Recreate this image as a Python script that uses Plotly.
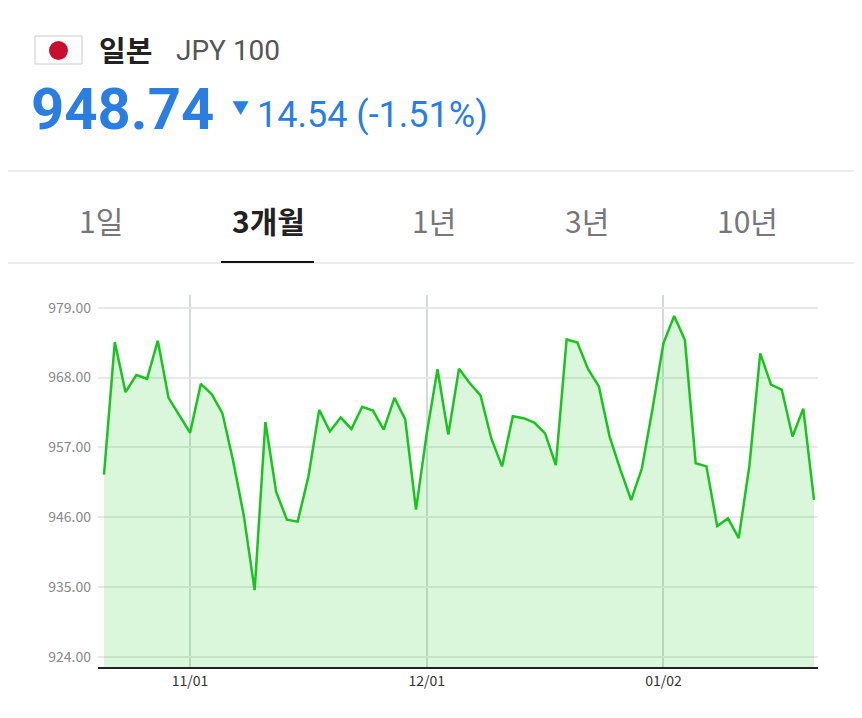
import plotly.graph_objects as go

# page body adds an 8px margin, so the figure is drawn inside that offset
OFF = 8
W, H = 862 - 2 * OFF, 718 - 2 * OFF

# daily JPY 100 rates, one value per trading day
rates = [
    952.7, 973.6, 965.7, 968.4, 967.8, 973.8, 964.8, 962.1, 959.3, 967.0,
    965.4, 962.4, 954.9, 946.2, 934.5, 961.0, 950.0, 945.6, 945.3, 952.4,
    962.9, 959.5, 961.7, 959.9, 963.4, 962.8, 959.8, 964.8, 961.4, 947.2,
    959.2, 969.3, 959.0, 969.4, 967.1, 965.2, 958.4, 954.0, 961.9, 961.6,
    960.9, 959.2, 954.2, 974.0, 973.5, 969.3, 966.6, 958.7, 953.5, 948.7,
    953.7, 963.2, 973.4, 977.7, 973.9, 954.5, 954.0, 944.6, 945.8, 942.7,
    954.2, 971.8, 966.9, 966.1, 958.7, 963.1, 948.74,
]
x_idx = list(range(len(rates)))
x_tickvals = [8, 30, 52]
x_ticktext = ["11/01", "12/01", "01/02"]
y_ticks = [924, 935, 946, 957, 968, 979]
tabs = ["1일", "3개월", "1년", "3년", "10년"]
tab_x = [101, 268, 434, 587, 747]

def px_x(p):
    return (p - OFF) / W

def px_y(p):
    return 1 - (p - OFF) / H

fig = go.Figure()
fig.add_trace(go.Scatter(
    x=x_idx, y=rates, mode="lines",
    line=dict(color="#18c51e", width=2.5),
    fill="tozeroy", fillcolor="rgba(24,197,30,0.16)",
    hoverinfo="skip",
))

fig.update_layout(
    width=W, height=H, margin=dict(l=0, r=0, t=0, b=0),
    paper_bgcolor="white", plot_bgcolor="white", showlegend=False,
    font=dict(family="Noto Sans CJK KR, Noto Sans, sans-serif"),
    xaxis=dict(
        domain=[px_x(98), px_x(818)], range=[-0.56, 66.37],
        tickvals=x_tickvals, ticktext=x_ticktext,
        showgrid=True, gridcolor="#d5dbd9", gridwidth=1.5,
        showline=True, linecolor="#222", linewidth=1.5,
        ticks="", tickfont=dict(size=14, color="#333"), zeroline=False,
    ),
    yaxis=dict(
        domain=[px_y(667), px_y(295)], range=[922.4, 981],
        tickvals=y_ticks, ticktext=[f"{v:.2f}" for v in y_ticks],
        showgrid=True, gridcolor="#e8e8e8", gridwidth=1.5,
        ticks="", tickfont=dict(size=14, color="#888"), zeroline=False,
        ticklabelstandoff=6,
    ),
)

shapes = [
    dict(type="rect", xref="paper", yref="paper",
         x0=px_x(35), x1=px_x(82), y0=px_y(64), y1=px_y(36),
         line=dict(color="#ccc", width=1), fillcolor="white"),
    dict(type="circle", xref="paper", yref="paper",
         x0=px_x(49), x1=px_x(68), y0=px_y(60), y1=px_y(41),
         line=dict(width=0), fillcolor="#c8102e"),
    dict(type="line", xref="paper", yref="paper",
         x0=-0.02, x1=1.02, y0=px_y(171), y1=px_y(171),
         line=dict(color="#e6e6e6", width=1.5)),
    dict(type="line", xref="paper", yref="paper",
         x0=-0.02, x1=1.02, y0=px_y(263), y1=px_y(263),
         line=dict(color="#e6e6e6", width=1.5)),
    dict(type="line", xref="paper", yref="paper",
         x0=px_x(221), x1=px_x(314), y0=px_y(262), y1=px_y(262),
         line=dict(color="#111", width=2)),
]
fig.update_layout(shapes=shapes)

ann = [
    dict(x=px_x(97), y=px_y(49), text="<b>일본</b>", xanchor="left",
         font=dict(size=29, color="#222")),
    dict(x=px_x(174), y=px_y(50), text="JPY 100", xanchor="left",
         font=dict(size=28, color="#555", family="Roboto")),
    dict(x=px_x(29), y=px_y(109), text="<b>948.74</b>", xanchor="left",
         font=dict(size=58, color="#2a7de1", family="Roboto")),
    dict(x=px_x(230), y=px_y(106), text="▼", xanchor="left",
         font=dict(size=17, color="#2a7de1")),
    dict(x=px_x(255), y=px_y(115), text="14.54 (-1.51%)", xanchor="left",
         font=dict(size=36, color="#2a7de1", family="Roboto")),
]
for t, x in zip(tabs, tab_x):
    sel = t == "3개월"
    ann.append(dict(x=px_x(x), y=px_y(220),
                    text=f"<b>{t}</b>" if sel else t, xanchor="center",
                    font=dict(size=30, color="#222" if sel else "#777")))
for a in ann:
    a.update(xref="paper", yref="paper", yanchor="middle", showarrow=False)
fig.update_layout(annotations=ann)

fig.write_html("out.html")
